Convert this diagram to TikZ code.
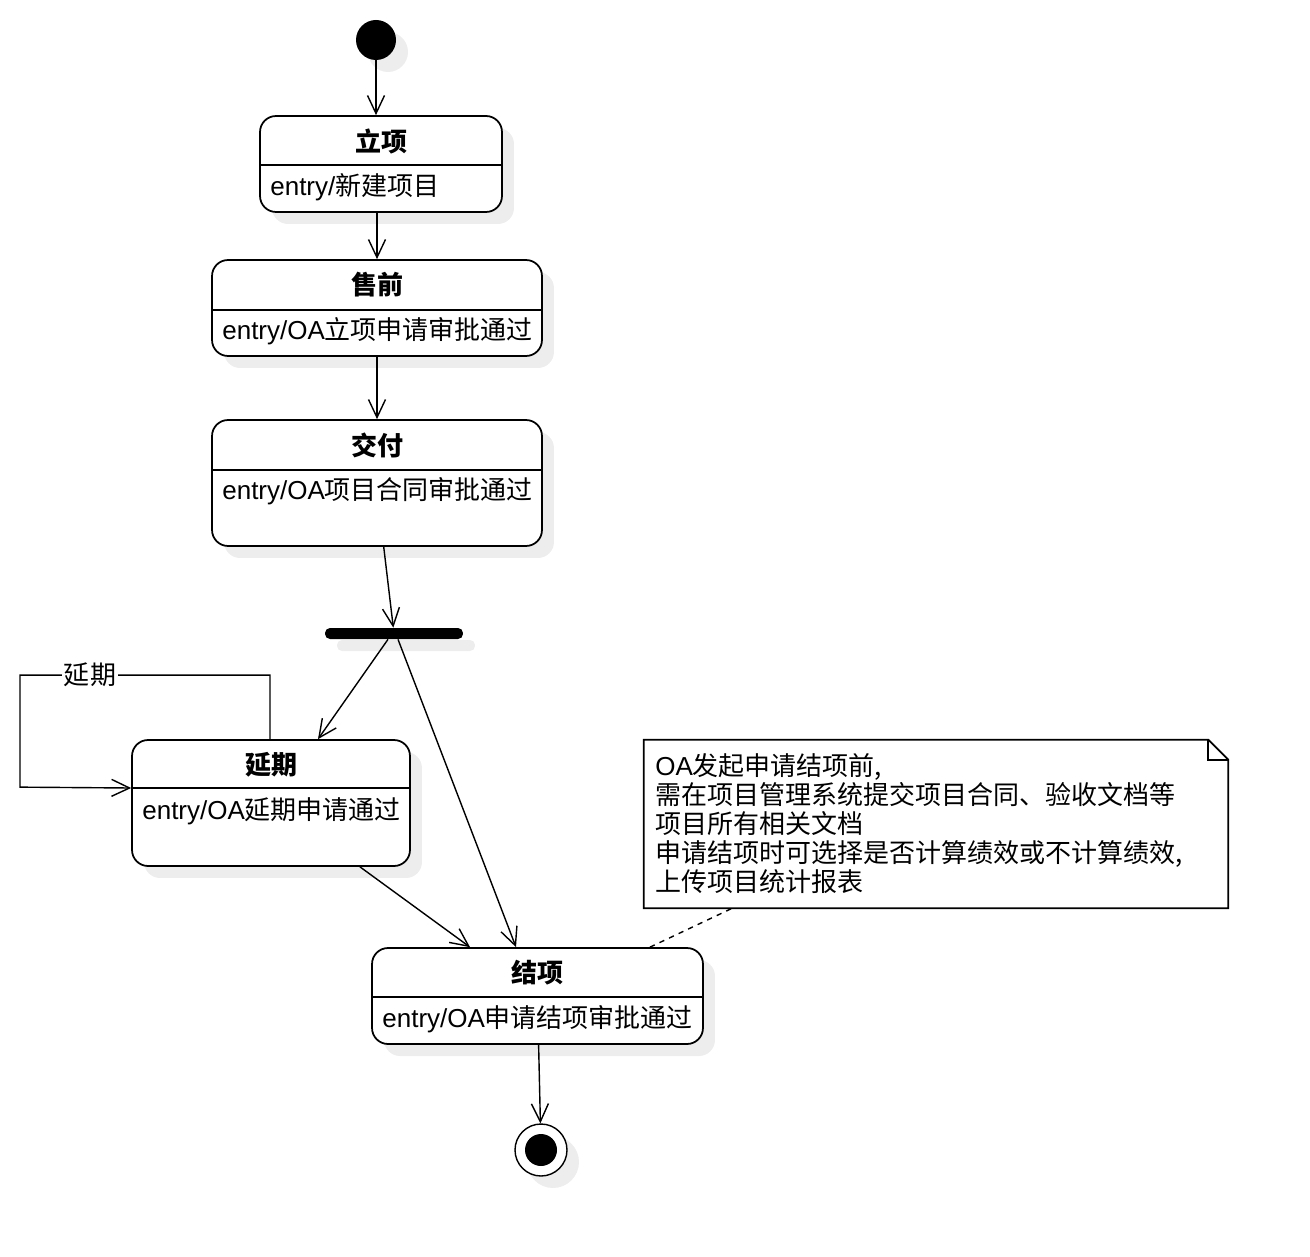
\documentclass[tikz,border=0pt]{standalone}
\usepackage{fontspec}
\setmainfont{Liberation Sans}
\newfontfamily\cjk{Noto Sans CJK SC}
\newcommand{\diagfont}{\fontsize{14.8}{16.5}\selectfont}
\usetikzlibrary{arrows.meta,shadows}

\begin{document}
\begin{tikzpicture}
        [x=0.02cm, y=-0.02cm,
        stateShadow/.style={drop shadow={shadow xshift=0.24cm, shadow yshift=-0.24cm, fill=black!7, opacity=1}},
        state/.style={draw, line width=1pt, rounded corners=0.32cm, fill=white, stateShadow},
        stateTitle/.style={inner sep=0pt, font=\diagfont\cjk\bfseries},
        stateEntry/.style={anchor=west, inner sep=0pt, font=\diagfont\cjk},
        trans/.style={line width=0.8pt, -{Straight Barb[length=0.36cm, width=0.34cm]}}]
        \useasboundingbox (0,0) rectangle (1310,1256);

        \node[circle, fill=black, minimum size=0.8cm, inner sep=0pt, stateShadow] (start) at (376,40) {};

        \node[state, minimum width=4.84cm, minimum height=1.92cm] (lixiang) at (381,164) {};
        \node[stateTitle] (lixiangT) at (381,141) {立项};
        \draw[line width=1pt] (lixiang.west |- 0,165) -- (lixiang.east |- 0,165);
        \node[stateEntry] (lixiangE) at (270,187) {{\rmfamily entry/}新建项目};

        \node[state, minimum width=6.6cm, minimum height=1.92cm] (shouqian) at (377,308) {};
        \node[stateTitle] (shouqianT) at (377,285) {售前};
        \draw[line width=1pt] (shouqian.west |- 0,310) -- (shouqian.east |- 0,310);
        \node[stateEntry] (shouqianE) at (222,331) {{\rmfamily entry/OA}立项申请审批通过};

        \node[state, minimum width=6.6cm, minimum height=2.52cm] (jiaofu) at (377,483) {};
        \node[stateTitle] (jiaofuT) at (377,445) {交付};
        \draw[line width=1pt] (jiaofu.west |- 0,470) -- (jiaofu.east |- 0,470);
        \node[stateEntry] (jiaofuE) at (222,491) {{\rmfamily entry/OA}项目合同审批通过};

        \node[fill=black, rounded corners=0.1cm, minimum width=2.76cm, minimum height=0.22cm, inner sep=0pt, stateShadow] (fork) at (394,633.5) {};

        \node[state, minimum width=5.56cm, minimum height=2.52cm] (yanqi) at (271,803) {};
        \node[stateTitle] (yanqiT) at (271,765) {延期};
        \draw[line width=1pt] (yanqi.west |- 0,788) -- (yanqi.east |- 0,788);
        \node[stateEntry] (yanqiE) at (142,811) {{\rmfamily entry/OA}延期申请通过};

        \node[state, minimum width=6.62cm, minimum height=1.92cm] (jiexiang) at (537.5,996) {};
        \node[stateTitle] (jiexiangT) at (537.5,973) {结项};
        \draw[line width=1pt] (jiexiang.west |- 0,997) -- (jiexiang.east |- 0,997);
        \node[stateEntry] (jiexiangE) at (382,1019) {{\rmfamily entry/OA}申请结项审批通过};

        \node[circle, draw, line width=0.8pt, fill=white, minimum size=1.04cm, inner sep=0pt, stateShadow] (final) at (541,1150) {};
        \node[circle, fill=black, minimum size=0.64cm, inner sep=0pt] (finalDot) at (final) {};

        % note
        \node[minimum width=11.68cm, minimum height=3.36cm, inner sep=0pt] (note) at (936,824) {};
        \draw[line width=1pt] (note.north west) -- ([xshift=-0.4cm]note.north east) -- ([yshift=-0.4cm]note.north east) -- (note.south east) -- (note.south west) -- cycle;
        \draw[line width=1pt] ([xshift=-0.4cm]note.north east) -- ([xshift=-0.4cm, yshift=-0.4cm]note.north east) -- ([yshift=-0.4cm]note.north east);
        \node[anchor=north west, align=left, inner sep=0pt, font=\diagfont\cjk] (noteText) at (655,753)
            {{\rmfamily OA}发起申请结项前,\\需在项目管理系统提交项目合同、验收文档等\\项目所有相关文档\\申请结项时可选择是否计算绩效或不计算绩效,\\上传项目统计报表};
        \coordinate (noteFoot) at ([xshift=-4.08cm]note.south);

        \draw[trans] (start) -- (start |- lixiang.north);
        \draw[trans] (shouqian.north |- lixiang.south) -- (shouqian.north);
        \draw[trans] (shouqian) -- (jiaofu);
        \draw[trans] (jiaofu.-84) -- (fork);
        \draw[trans] ([xshift=-0.12cm]fork.south) -- ([xshift=0.94cm]yanqi.north);
        \draw[trans] ([xshift=0.08cm]fork.south) -- ([xshift=-0.43cm]jiexiang.north);
        \draw[trans] ([xshift=1.78cm]yanqi.south) -- ([xshift=-1.35cm]jiexiang.north);
        \draw[trans] (jiexiang) -- (final);
        \draw[trans] ([xshift=-0.02cm]yanqi.north) -- ++(0,-64) -- ++(-250,0) node[pos=0.72, fill=white, inner sep=1pt, font=\diagfont\cjk] {延期} -- ++(0,112) -- ([yshift=0.3cm]yanqi.west);
        \draw[dashed, line width=0.8pt] ([xshift=2.25cm]jiexiang.north) -- (noteFoot);
    \end{tikzpicture}
\end{document}
